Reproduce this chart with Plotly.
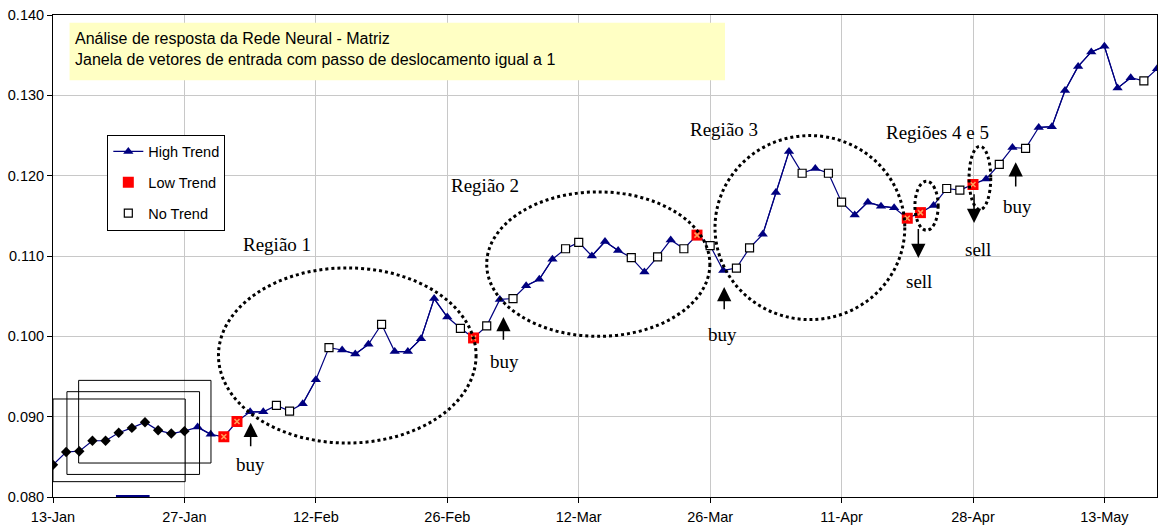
import plotly.graph_objects as go

# ---- data ----
values = [0.0840, 0.0856, 0.0857, 0.0870, 0.0870, 0.0880, 0.0886, 0.0893, 0.0883, 0.0879,
          0.0882, 0.0887, 0.0878, 0.0875, 0.0894, 0.0906, 0.0906, 0.0914, 0.0907, 0.0916,
          0.0946, 0.0986, 0.0983, 0.0978, 0.0990, 0.1015, 0.0981, 0.0981, 0.0997, 0.1047,
          0.1024, 0.1010, 0.0998, 0.1013, 0.1046, 0.1047, 0.1063, 0.1071, 0.1096, 0.1109,
          0.1117, 0.1100, 0.1118, 0.1107, 0.1098, 0.1080, 0.1099, 0.1120, 0.1109, 0.1126,
          0.1113, 0.1082, 0.1085, 0.1110, 0.1127, 0.1179, 0.1230, 0.1203, 0.1209, 0.1203,
          0.1167, 0.1151, 0.1167, 0.1162, 0.1160, 0.1147, 0.1154, 0.1163, 0.1184, 0.1182,
          0.1189, 0.1196, 0.1214, 0.1235, 0.1234, 0.1260, 0.1261, 0.1306, 0.1336, 0.1354,
          0.1361, 0.1309, 0.1322, 0.1318, 0.1333]
# W = input window, H = High Trend, L = Low Trend, N = No Trend
trend = list("WWWWWWWWWWW" "HHLLHHNNH" "HNHHHNHHHH" "HNLNHNHHHN" "NHHHNHNHNL"
             "NHNNHHHNHN" "NHHHHLLHNN" "LHNHNHHHHH" "HHHNH")
tick_labels = ["13-Jan", "27-Jan", "12-Feb", "26-Feb", "12-Mar", "26-Mar",
               "11-Apr", "28-Apr", "13-May"]
series_names = {"H": "High Trend", "L": "Low Trend", "N": "No Trend"}
title_lines = ["Análise de resposta da Rede Neural - Matriz",
               "Janela de vetores de entrada com passo de deslocamento igual a 1"]

x = list(range(len(values)))
tick_step = 10
tickvals = [i * tick_step for i in range(len(tick_labels))]


def masked(code):
    return [v if t == code else None for v, t in zip(values, trend)]


NAVY = "#000080"
SANS = "Liberation Sans"
SERIF = "Liberation Serif"

fig = go.Figure()
# connecting line through every point
fig.add_trace(go.Scatter(x=x, y=values, mode="lines", line=dict(color=NAVY, width=1.2),
                         showlegend=False, hoverinfo="skip"))
# input window points
fig.add_trace(go.Scatter(x=x, y=masked("W"), mode="markers", showlegend=False,
                         marker=dict(symbol="diamond", size=8, color="black")))
# High trend
fig.add_trace(go.Scatter(x=x, y=masked("H"), mode="lines+markers", name=series_names["H"],
                         legendgroup="h", connectgaps=False,
                         line=dict(color=NAVY, width=1.2),
                         marker=dict(symbol="triangle-up", size=9, color=NAVY)))
# Low trend
fig.add_trace(go.Scatter(x=x, y=masked("L"), mode="markers", name=series_names["L"],
                         legendgroup="l",
                         marker=dict(symbol="square", size=11, color="#FF0000",
                                     line=dict(width=0))))
fig.add_trace(go.Scatter(x=x, y=masked("L"), mode="markers", legendgroup="l", showlegend=False,
                         hoverinfo="skip",
                         marker=dict(symbol="x-thin-open", size=5,
                                     line=dict(color="white", width=1.5))))
# No trend
fig.add_trace(go.Scatter(x=x, y=masked("N"), mode="markers", name=series_names["N"],
                         legendgroup="n",
                         marker=dict(symbol="square", size=8, color="white",
                                     line=dict(color="black", width=1.2))))

shapes = []
# yellow title box
shapes.append(dict(type="rect", xref="x", yref="y", x0=1.26, x1=51.13, y0=0.13188, y1=0.13903,
                   fillcolor="#FFFFC4", line=dict(width=0), layer="between"))
# sliding-window rectangles
for (x0, x1, y0, y1) in [(0.0, 10.06, 0.08191, 0.09220),
                         (1.06, 11.15, 0.08281, 0.09311),
                         (1.95, 12.02, 0.08423, 0.09452)]:
    shapes.append(dict(type="rect", xref="x", yref="y", x0=x0, x1=x1, y0=y0, y1=y1,
                       line=dict(color="black", width=1), layer="above"))
# dotted ellipses for regions
for (x0, x1, y0, y1) in [(12.59, 32.19, 0.08672, 0.10852),
                         (33.0, 49.98, 0.10000, 0.11798),
                         (50.37, 64.81, 0.10208, 0.12499),
                         (65.58, 67.35, 0.11320, 0.11930),
                         (69.70, 71.35, 0.11578, 0.12366)]:
    shapes.append(dict(type="circle", xref="x", yref="y", x0=x0, x1=x1, y0=y0, y1=y1,
                       line=dict(color="black", width=3, dash="dot"), layer="above"))
# small blue mark on the axis
shapes.append(dict(type="line", xref="x", yref="y", x0=4.79, x1=7.35, y0=0.0801, y1=0.0801,
                   line=dict(color=NAVY, width=2.5), layer="above"))

annotations = []
annotations.append(dict(xref="x", yref="y", x=1.52, y=0.13844, xanchor="left", yanchor="top",
                        align="left", showarrow=False, text="<br>".join(title_lines),
                        font=dict(family=SANS, size=16, color="black")))
for (tx, ty, txt) in [(17.06, 0.11142, "Região 1"), (32.87, 0.11877, "Região 2"),
                      (51.05, 0.12574, "Região 3"), (67.32, 0.12537, "Regiões 4 e 5"),
                      (15.06, 0.08402, "buy"), (34.39, 0.09681, "buy"),
                      (50.97, 0.10021, "buy"), (73.41, 0.11619, "buy"),
                      (65.90, 0.10685, "sell"), (70.39, 0.11080, "sell")]:
    annotations.append(dict(xref="x", yref="y", x=tx, y=ty, text=txt, showarrow=False,
                            font=dict(family=SERIF, size=19, color="black")))
# arrows: (x, tip y, tail y)
for (ax_, tip, tail) in [(15.04, 0.08925, 0.08614), (34.27, 0.10242, 0.09938),
                         (51.07, 0.10615, 0.10320), (73.25, 0.12167, 0.11848),
                         (65.84, 0.10976, 0.11354), (70.08, 0.11412, 0.11786)]:
    annotations.append(dict(xref="x", yref="y", axref="x", ayref="y", x=ax_, y=tip,
                            ax=ax_, ay=tail, text="", showarrow=True, arrowhead=2,
                            arrowsize=1.9, arrowwidth=1.5, arrowcolor="black"))

axis_common = dict(showgrid=True, gridcolor="#C8C8C8", gridwidth=1, showline=True,
                   linecolor="black", linewidth=1, mirror=True, ticks="outside",
                   ticklen=5, tickcolor="black", zeroline=False,
                   tickfont=dict(family=SANS, size=14.5, color="black"))

fig.update_layout(
    width=1159, height=527,
    margin=dict(l=53, r=2, t=15, b=30),
    paper_bgcolor="white", plot_bgcolor="white",
    xaxis=dict(range=[0, len(values) - 1], tickmode="array", tickvals=tickvals,
               ticktext=tick_labels, ticklabelstandoff=2, **axis_common),
    yaxis=dict(range=[0.08, 0.14], dtick=0.01, tickformat=".3f", **axis_common),
    legend=dict(x=0.0492, y=0.752, xanchor="left", yanchor="top", bgcolor="white",
                bordercolor="black", borderwidth=1, tracegroupgap=9,
                font=dict(family=SANS, size=14.5, color="black")),
    shapes=shapes, annotations=annotations,
    hovermode=False,
)

fig.write_html("out.html", config={"displayModeBar": False},
               post_script="document.body.style.margin='0';document.body.style.overflow='hidden';")
